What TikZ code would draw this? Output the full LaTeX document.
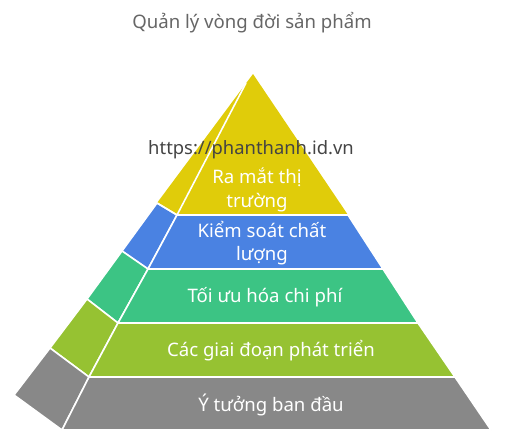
\documentclass[tikz,border=0pt]{standalone}
\usepackage{fontspec}
\setmainfont{Noto Sans}
\definecolor{cyel}{HTML}{E0CC0A}
\definecolor{cblu}{HTML}{4A82E2}
\definecolor{cgrn}{HTML}{3CC484}
\definecolor{clim}{HTML}{96C232}
\definecolor{cgry}{HTML}{888888}
\definecolor{ctitle}{HTML}{666666}
\definecolor{cwm}{HTML}{444444}
\begin{document}
\begin{tikzpicture}[x=1pt,y=-1pt,
  face/.style={draw=white,line width=1.6pt,line join=round},
  lbl/.style={text=white,font=\fontsize{18.6}{23.5}\selectfont,align=center,inner sep=0pt},
  ttl/.style={text=ctitle,font=\fontsize{18.6}{20}\selectfont,inner sep=0pt},
  wm/.style={text=cwm,font=\fontsize{18.4}{20}\selectfont,inner sep=0pt}]
\useasboundingbox (0,0) rectangle (506,445);
% left face
\coordinate (O0) at (253,74);
\coordinate (O1) at (157,203);
\coordinate (O2) at (122,251);
\coordinate (O3) at (87,299);
\coordinate (O4) at (50,348);
\coordinate (O5) at (14,395);
\coordinate (I0) at (246,83);
\coordinate (I1) at (177,215);
\coordinate (I2) at (148,269);
\coordinate (I3) at (118,323);
\coordinate (I4) at (89,377);
\coordinate (I5) at (62,430);
\coordinate (R1) at (348,215);
\coordinate (R2) at (383,269);
\coordinate (R3) at (418,323);
\coordinate (R4) at (455,377);
\coordinate (R5) at (491,430);
\fill[cyel] (O0) -- (O1) -- (I1) -- (R1) -- cycle;
\draw[face,fill=cblu] (O1) -- (O2) -- (I2) -- (I1) -- cycle;
\draw[face,fill=cgrn] (O2) -- (O3) -- (I3) -- (I2) -- cycle;
\draw[face,fill=clim] (O3) -- (O4) -- (I4) -- (I3) -- cycle;
\draw[face,fill=cgry] (O4) -- (O5) -- (I5) -- (I4) -- cycle;
\draw[white,line width=1.6pt] (O1) -- (I1);
% front face
\draw[white,line width=1.6pt] (I1) -- (I0);
\draw[face,fill=cblu] (I1) -- (R1) -- (R2) -- (I2) -- cycle;
\draw[face,fill=cgrn] (I2) -- (R2) -- (R3) -- (I3) -- cycle;
\draw[face,fill=clim] (I3) -- (R3) -- (R4) -- (I4) -- cycle;
\draw[face,fill=cgry] (I4) -- (R4) -- (R5) -- (I5) -- cycle;
% labels
\node[ttl] (title) at (252,23) {Quản lý vòng đời sản phẩm};
\node[wm] (wmark) at (251,150) {https://phanthanh.id.vn};
\node[lbl] (l1) at (257,190) {Ra mắt thị\\trường};
\node[lbl] (l2) at (262,243) {Kiểm soát chất\\lượng};
\node[lbl] (l3) at (265,297) {Tối ưu hóa chi phí};
\node[lbl] (l4) at (271,351) {Các giai đoạn phát triển};
\node[lbl] (l5) at (271,405) {Ý tưởng ban đầu};
\end{tikzpicture}
\end{document}
